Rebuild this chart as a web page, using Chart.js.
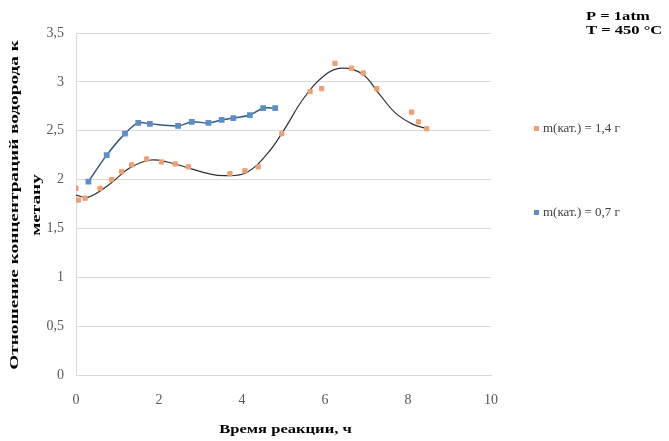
<!DOCTYPE html>
<html><head><meta charset="utf-8">
<script src="https://cdn.jsdelivr.net/npm/chart.js@4"></script>
<style>
html,body{margin:0;padding:0;background:#fff;}
</style></head>
<body><canvas id="c" width="669" height="441"></canvas>
<script>
const seriesNames = ["m(кат.) = 1,4 г", "m(кат.) = 0,7 г"];
const xTitle = "Время реакции, ч";
const yTitle = ["Отношение концентраций водорода к", "метану"];
const noteLines = ["P = 1atm", "T = 450 °C"];

const timeA = [0.0, 0.06, 0.22, 0.58, 0.86, 1.10, 1.34, 1.70, 2.06, 2.39, 2.71, 3.71, 4.07, 4.39, 4.96, 5.64, 5.92, 6.24, 6.64, 6.92, 7.25, 8.09, 8.25, 8.45];
const ratioA = [1.91, 1.79, 1.81, 1.91, 2.00, 2.08, 2.15, 2.21, 2.18, 2.16, 2.13, 2.06, 2.09, 2.13, 2.47, 2.90, 2.93, 3.19, 3.14, 3.09, 2.93, 2.69, 2.59, 2.52];

const timeB = [0.30, 0.74, 1.18, 1.50, 1.78, 2.46, 2.79, 3.19, 3.51, 3.79, 4.19, 4.51, 4.80];
const ratioB = [1.98, 2.25, 2.47, 2.58, 2.57, 2.55, 2.59, 2.58, 2.61, 2.63, 2.66, 2.73, 2.73];

const trendX = [0.0, 0.3, 0.8, 1.3, 1.8, 2.2, 2.7, 3.2, 3.6, 4.1, 4.6, 5.0, 5.5, 6.0, 6.4, 6.9, 7.3, 7.7, 8.1, 8.45];
const trendY = [1.84, 1.82, 1.95, 2.12, 2.20, 2.18, 2.12, 2.06, 2.04, 2.07, 2.26, 2.50, 2.84, 3.07, 3.14, 3.08, 2.88, 2.68, 2.57, 2.52];

const xTicks = [0, 2, 4, 6, 8, 10];
const yTicks = [0, 0.5, 1, 1.5, 2, 2.5, 3, 3.5];

const pts = (xs, ys) => xs.map((x, i) => ({x: x, y: ys[i]}));
const orange = "#f0a070", blue = "#5b8fc8";
const SERIF = "'Liberation Serif', serif";
const STRETCH = 1.38;

function stretchedText(ctx, text, x, y, sx) {
  ctx.save();
  ctx.translate(x, y);
  ctx.scale(sx, 1);
  ctx.fillText(text, 0, 0);
  ctx.restore();
}

const textPlugin = {
  id: "texts",
  afterDraw(chart) {
    const ctx = chart.ctx;
    const area = chart.chartArea;
    ctx.save();
    // legend
    const items = [{t: seriesNames[0], c: orange, y: 129}, {t: seriesNames[1], c: blue, y: 213}];
    ctx.font = "13px " + SERIF;
    ctx.textBaseline = "middle";
    ctx.textAlign = "left";
    items.forEach(it => {
      ctx.fillStyle = it.c;
      ctx.fillRect(534, it.y - 3, 5, 5);
      ctx.fillStyle = "#404040";
      ctx.fillText(it.t, 543, it.y);
    });
    // note
    ctx.fillStyle = "#000";
    ctx.font = "bold 12px " + SERIF;
    ctx.textAlign = "left";
    noteLines.forEach((t, i) => stretchedText(ctx, t, 586, 17 + i * 14, STRETCH));
    // x title
    ctx.font = "bold 12px " + SERIF;
    ctx.textAlign = "center";
    stretchedText(ctx, xTitle, (area.left + area.right) / 2 + 2, 430, STRETCH);
    // y title
    ctx.font = "bold 13px " + SERIF;
    const cy = 205;
    yTitle.forEach((t, i) => {
      ctx.save();
      ctx.translate(15 + i * 22, cy);
      ctx.rotate(-Math.PI / 2);
      ctx.scale(1.48, 1);
      ctx.textAlign = "center";
      ctx.fillText(t, 0, 0);
      ctx.restore();
    });
    ctx.restore();
  }
};

new Chart(document.getElementById("c"), {
  type: "scatter",
  data: {
    datasets: [
      {label: "trend", data: pts(trendX, trendY), showLine: true, borderColor: "#303030", borderWidth: 1.2, pointRadius: 0, tension: 0.4, order: 3},
      {label: seriesNames[0], data: pts(timeA, ratioA), showLine: false, pointStyle: "rect", pointRadius: 3, backgroundColor: orange, borderColor: orange, order: 1},
      {label: seriesNames[1], data: pts(timeB, ratioB), showLine: true, borderColor: "#36597f", borderWidth: 1.5, tension: 0.35, pointStyle: "rect", pointRadius: 3, backgroundColor: blue, pointBorderColor: blue, order: 2}
    ]
  },
  options: {
    responsive: false,
    animation: false,
    layout: {padding: {left: 0, top: 33, right: 178, bottom: 0}},
    plugins: {legend: {display: false}, tooltip: {enabled: false}},
    scales: {
      x: {
        type: "linear", min: 0, max: 10,
        afterBuildTicks: s => { s.ticks = xTicks.map(v => ({value: v})); },
        afterFit: s => { s.height = 66; },
        grid: {display: false, drawTicks: false},
        border: {display: true, color: "#d9d9d9", width: 1},
        ticks: {color: "#595959", font: {family: SERIF, size: 14}, padding: 17},
        title: {display: false}
      },
      y: {
        min: 0, max: 3.5,
        afterBuildTicks: s => { s.ticks = yTicks.map(v => ({value: v})); },
        afterFit: s => { s.width = 76; },
        grid: {color: "#d9d9d9", drawTicks: false},
        border: {display: true, color: "#d9d9d9", width: 1},
        ticks: {color: "#595959", font: {family: SERIF, size: 14}, padding: 12,
          callback: v => String(v).replace(".", ",")},
        title: {display: false}
      }
    }
  },
  plugins: [textPlugin]
});
</script></body></html>
